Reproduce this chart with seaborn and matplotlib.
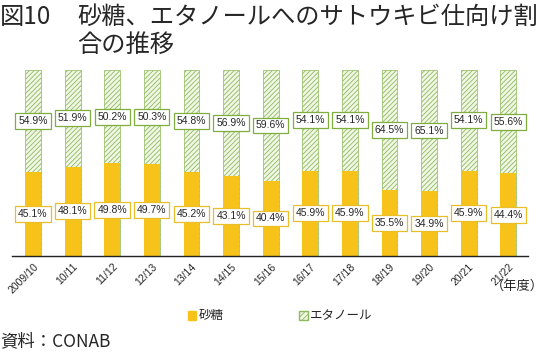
import matplotlib
matplotlib.use("Agg")
import matplotlib.pyplot as plt
import matplotlib.patches as mpatches
import seaborn as sns
import pandas as pd
import numpy as np

# --- data ---
years = ["2009/10", "10/11", "11/12", "12/13", "13/14", "14/15", "15/16",
         "16/17", "17/18", "18/19", "19/20", "20/21", "21/22"]
sugar = [45.1, 48.1, 49.8, 49.7, 45.2, 43.1, 40.4, 45.9, 45.9, 35.5, 34.9, 45.9, 44.4]
ethanol = [54.9, 51.9, 50.2, 50.3, 54.8, 56.9, 59.6, 54.1, 54.1, 64.5, 65.1, 54.1, 55.6]

SUGAR_COLOR = "#F7C21A"
ETH_FACE = "#F1F7E6"
ETH_EDGE = "#8DBA5A"

sns.set_theme(style="white")
plt.rcParams["font.family"] = ["Noto Sans CJK JP", "DejaVu Sans"]
plt.rcParams["hatch.linewidth"] = 0.6

df = pd.DataFrame({"year": years, "sugar": sugar, "ethanol": ethanol})
df["total"] = df["sugar"] + df["ethanol"]

fig = plt.figure(figsize=(5.45, 3.52), dpi=100)
ax = fig.add_axes([0.022, 0.2727, 0.947, 0.5284])

# ethanol (stacked on top) drawn as full bar, sugar drawn over it
sns.barplot(data=df, x="year", y="total", ax=ax, color=ETH_FACE, width=0.4,
            saturation=1, edgecolor=ETH_EDGE, linewidth=0.5, hatch="///////")
n = len(years)
sns.barplot(data=df, x="year", y="sugar", ax=ax, color=SUGAR_COLOR, width=0.4,
            saturation=1, linewidth=0)
for p in ax.patches[n:]:
    p.set_hatch(None)

x = np.arange(n)
for i in range(n):
    ax.text(x[i], sugar[i] / 2, f"{sugar[i]:.1f}%", ha="center", va="center",
            fontsize=7.5, family=["Liberation Sans"],
            bbox=dict(boxstyle="square,pad=0.28", fc="white", ec="#E8BE2A", lw=0.9))
    ax.text(x[i], sugar[i] + ethanol[i] / 2, f"{ethanol[i]:.1f}%", ha="center", va="center",
            fontsize=7.5, family=["Liberation Sans"],
            bbox=dict(boxstyle="square,pad=0.28", fc="white", ec="#7FAE3E", lw=0.9))

ax.set_xlim(-0.53, n - 1 + 0.5)
ax.set_ylim(0, 100)
ax.set_yticks([])
ax.set_xlabel("")
ax.set_ylabel("")
ax.set_xticks(x)
ax.set_xticklabels(years, rotation=45, ha="right", rotation_mode="anchor",
                   fontsize=7.5, family=["Liberation Sans"])
ax.tick_params(axis="x", length=0, pad=4)
for s in ["top", "left", "right"]:
    ax.spines[s].set_visible(False)
ax.spines["bottom"].set_color("#222222")
ax.spines["bottom"].set_linewidth(1.0)

fig.text(544 / 545, 1 - 286 / 352, "（年度）", fontsize=9.5, ha="right", va="center")

# legend
h1 = mpatches.Patch(facecolor=SUGAR_COLOR, edgecolor=SUGAR_COLOR, label="砂糖")
h2 = mpatches.Patch(facecolor=ETH_FACE, edgecolor=ETH_EDGE, hatch="//////", label="エタノール")
fig.legend(handles=[h1, h2], loc="center", bbox_to_anchor=(280 / 545, 1 - 316 / 352),
           ncol=2, frameon=False, fontsize=9, handlelength=0.7, handleheight=0.7,
           handletextpad=0.2, columnspacing=6)

# title
fig.text(0.0, 1 - 17 / 352, "図10", fontsize=17.5, ha="left", va="center")
fig.text(77 / 545, 1 - 17 / 352, "砂糖、エタノールへのサトウキビ仕向け割", fontsize=17.5,
         ha="left", va="center")
fig.text(77 / 545, 1 - 45 / 352, "合の推移", fontsize=17.5, ha="left", va="center")

fig.text(0.0, 1 - 341 / 352, "資料：CONAB", fontsize=12.5, ha="left", va="center")

fig.savefig("out.png", dpi=100)
